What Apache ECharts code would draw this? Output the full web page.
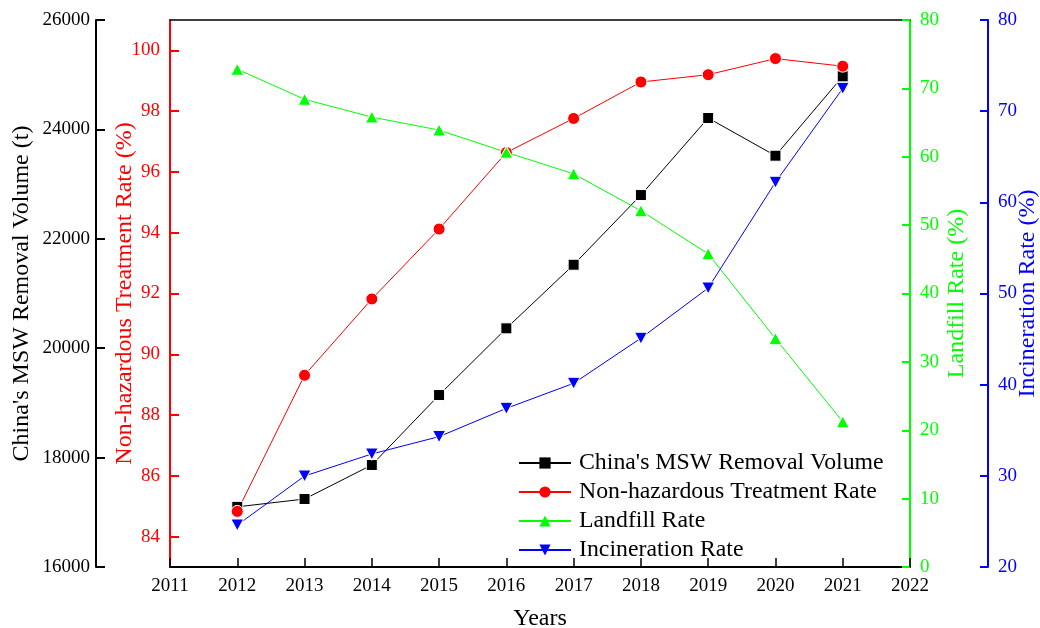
<!DOCTYPE html>
<html>
<head>
<meta charset="utf-8">
<script src="https://cdn.jsdelivr.net/npm/echarts@6/dist/echarts.min.js"></script>
<style>
html,body{margin:0;padding:0;background:#fff;}
#chart{width:1040px;height:628px;}
</style>
</head>
<body>
<div id="chart"></div>
<script>
const years = [2012, 2013, 2014, 2015, 2016, 2017, 2018, 2019, 2020, 2021];
const volume = [17100, 17243, 17865, 19144, 20363, 21526, 22800, 24208, 23519, 24970];
const treatment = [84.83, 89.31, 91.82, 94.12, 96.64, 97.76, 98.96, 99.2, 99.73, 99.48];
const landfill = [72.8, 68.4, 65.8, 63.9, 60.65, 57.5, 52.1, 45.8, 33.4, 21.25];
const incineration = [24.6, 29.98, 32.4, 34.3, 37.4, 40.15, 45.1, 50.6, 62.2, 72.5];
const treatmentTicks = [84, 86, 88, 90, 92, 94, 96, 98, 100];
const seriesNames = ["China's MSW Removal Volume", "Non-hazardous Treatment Rate", "Landfill Rate", "Incineration Rate"];

const FONT = 'Liberation Serif';
const LBL = 19;
const NAME = 24;
const pair = arr => years.map((y, i) => [y, arr[i]]);
const downTri = 'path://M0,0 L10,0 L5,9 Z';
const plain = v => String(v);

const chart = echarts.init(document.getElementById('chart'), null, {renderer: 'canvas'});

function yAx(opts) {
  return Object.assign({
    type: 'value',
    nameLocation: 'middle',
    nameRotate: 90,
    nameMoveOverlap: false,
    splitLine: {show: false}
  }, opts);
}

const option = {
  backgroundColor: '#fff',
  animation: false,
  grid: {left: 170, right: 130, top: 20, bottom: 61, containLabel: false, outerBoundsMode: 'none'},
  legend: {
    orient: 'vertical',
    left: 518,
    top: 451,
    padding: 0,
    itemWidth: 52,
    itemHeight: 14,
    itemGap: 5,
    data: seriesNames,
    itemStyle: {borderWidth: 0},
    textStyle: {fontFamily: FONT, fontSize: 23.8, color: '#000', padding: [0, 0, 0, 3]}
  },
  xAxis: [{
    type: 'value',
    min: 2011, max: 2022, interval: 1,
    name: 'Years',
    nameLocation: 'middle',
    nameMoveOverlap: false,
    nameGap: 40,
    nameTextStyle: {fontFamily: FONT, fontSize: NAME, color: '#000'},
    splitLine: {show: false},
    axisLine: {show: true, onZero: false, lineStyle: {color: '#000', width: 2}},
    axisTick: {show: true, inside: true, length: 9, lineStyle: {color: '#000', width: 1.5}},
    axisLabel: {fontFamily: FONT, fontSize: LBL, color: '#000', margin: 10, formatter: plain}
  }, {
    type: 'value',
    position: 'top',
    min: 2011, max: 2022,
    splitLine: {show: false},
    axisLine: {show: true, onZero: false, lineStyle: {color: '#000', width: 1.5}},
    axisTick: {show: false},
    axisLabel: {show: false}
  }],
  yAxis: [
    yAx({
      position: 'left', offset: 74,
      min: 16000, max: 26000, interval: 2000,
      name: "China's MSW Removal Volume (t)", nameGap: 62,
      axisLine: {show: true, onZero: false, lineStyle: {color: '#000', width: 2}},
      axisTick: {show: true, inside: true, length: 9, lineStyle: {color: '#000', width: 2}},
      axisLabel: {fontFamily: FONT, fontSize: LBL, color: '#000', margin: 6, formatter: plain},
      nameTextStyle: {fontFamily: FONT, fontSize: NAME, color: '#000'}
    }),
    yAx({
      position: 'left', offset: 0,
      min: 83, max: 101,
      name: 'Non-hazardous Treatment Rate (%)', nameGap: 33,
      axisLine: {show: true, onZero: false, lineStyle: {color: '#ff0000', width: 2}},
      axisTick: {show: true, inside: true, length: 9, lineStyle: {color: '#ff0000', width: 2}, customValues: treatmentTicks},
      axisLabel: {fontFamily: FONT, fontSize: LBL, color: '#ff0000', margin: 10, customValues: treatmentTicks, formatter: plain},
      nameTextStyle: {fontFamily: FONT, fontSize: NAME, color: '#ff0000'}
    }),
    yAx({
      position: 'right', offset: 0,
      min: 0, max: 80, interval: 10,
      name: 'Landfill Rate (%)', nameGap: 35,
      axisLine: {show: true, onZero: false, lineStyle: {color: '#00ff00', width: 2}},
      axisTick: {show: true, inside: true, length: 8, lineStyle: {color: '#00ff00', width: 2}},
      axisLabel: {fontFamily: FONT, fontSize: LBL, color: '#00ff00', margin: 10, formatter: plain},
      nameTextStyle: {fontFamily: FONT, fontSize: NAME, color: '#00ff00'}
    }),
    yAx({
      position: 'right', offset: 78,
      min: 20, max: 80, interval: 10,
      name: 'Incineration Rate (%)', nameGap: 28,
      axisLine: {show: true, onZero: false, lineStyle: {color: '#0000ff', width: 2}},
      axisTick: {show: true, inside: true, length: 8, lineStyle: {color: '#0000ff', width: 2}},
      axisLabel: {fontFamily: FONT, fontSize: LBL, color: '#0000ff', margin: 10, formatter: plain},
      nameTextStyle: {fontFamily: FONT, fontSize: NAME, color: '#0000ff'}
    })
  ],
  series: [
    {
      name: seriesNames[0], type: 'line', yAxisIndex: 0, data: pair(volume),
      symbol: 'rect', symbolSize: 11,
      lineStyle: {color: '#000', width: 1},
      itemStyle: {color: '#000', borderColor: '#fff', borderWidth: 1}
    },
    {
      name: seriesNames[1], type: 'line', yAxisIndex: 1, data: pair(treatment),
      symbol: 'circle', symbolSize: 12,
      lineStyle: {color: '#ff0000', width: 1},
      itemStyle: {color: '#ff0000', borderColor: '#fff', borderWidth: 1}
    },
    {
      name: seriesNames[2], type: 'line', yAxisIndex: 2, data: pair(landfill),
      symbol: 'triangle', symbolSize: [13, 12],
      lineStyle: {color: '#00ff00', width: 1},
      itemStyle: {color: '#00ff00', borderColor: '#fff', borderWidth: 1}
    },
    {
      name: seriesNames[3], type: 'line', yAxisIndex: 3, data: pair(incineration),
      symbol: downTri, symbolSize: [13, 12],
      lineStyle: {color: '#0000ff', width: 1},
      itemStyle: {color: '#0000ff', borderColor: '#fff', borderWidth: 1}
    }
  ]
};
chart.setOption(option);
</script>
</body>
</html>
